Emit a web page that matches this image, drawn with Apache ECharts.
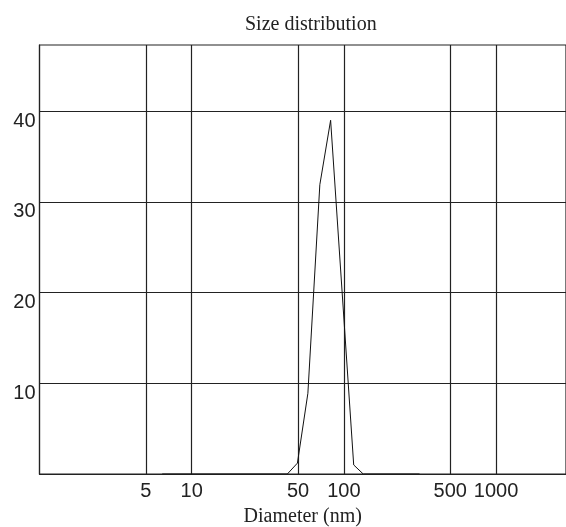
<!DOCTYPE html>
<html lang="en">
<head>
    <meta charset="UTF-8">
    <title>Size distribution</title>
    <script src="https://cdn.jsdelivr.net/npm/echarts@6/dist/echarts.min.js"></script>
    <style>
        body { margin: 0; background: #fff; }
        #main { width: 566px; height: 527px; }
    </style>
</head>
<body>
    <div id="main"></div>
    <script type="text/javascript">
        // diameter (nm) and intensity
        var diameters = [6.4, 42.5, 49.5, 58, 69.5, 81.8, 116, 134, 314];
        var intensity = [0, 0, 1.2, 8.9, 31.9, 39.0, 1.0, 0, 0];
        var xTicks = [5, 10, 50, 100, 500, 1000];
        var yTicks = [10, 20, 30, 40];

        var points = diameters.map(function (d, i) { return [d, intensity[i]]; });

        var lineColor = '#222';
        var myChart = echarts.init(document.getElementById('main'));
        var option = {
            animation: false,
            backgroundColor: '#fff',
            title: {
                text: 'Size distribution',
                left: 240,
                top: 10,
                textStyle: {
                    fontFamily: 'Liberation Serif',
                    fontWeight: 'normal',
                    fontSize: 20,
                    color: '#222'
                }
            },
            grid: {
                left: 39.5,
                right: 0,
                top: 45,
                bottom: 53,
                outerBoundsMode: 'none',
                containLabel: false,
                show: true,
                borderColor: lineColor,
                borderWidth: 1.2
            },
            xAxis: {
                type: 'log',
                min: 1,
                max: 2880,
                name: 'Diameter (nm)',
                nameLocation: 'middle',
                nameGap: 33,
                nameTextStyle: {
                    fontFamily: 'Liberation Serif',
                    fontSize: 20,
                    color: '#222'
                },
                axisLine: { show: true, lineStyle: { color: lineColor, width: 1.2 } },
                axisTick: { show: false, customValues: xTicks },
                axisLabel: {
                    customValues: xTicks,
                    margin: 7,
                    formatter: function (v) { return String(v); },
                    fontFamily: 'Liberation Sans',
                    fontSize: 20,
                    color: '#222'
                },
                splitLine: { show: true, lineStyle: { color: lineColor, width: 1.2 } }
            },
            yAxis: {
                type: 'value',
                min: 0,
                max: 47.3,
                interval: 10,
                axisLine: { show: true, lineStyle: { color: lineColor, width: 1.2 } },
                axisTick: { show: false, customValues: yTicks },
                axisLabel: {
                    customValues: yTicks,
                    margin: 4,
                    verticalAlign: 'top',
                    fontFamily: 'Liberation Sans',
                    fontSize: 20,
                    color: '#222'
                },
                splitLine: { show: true, lineStyle: { color: lineColor, width: 1.2 } }
            },
            series: [{
                type: 'line',
                data: points,
                symbol: 'none',
                lineStyle: { color: '#111', width: 1 }
            }]
        };
        myChart.setOption(option);
    </script>
</body>
</html>
